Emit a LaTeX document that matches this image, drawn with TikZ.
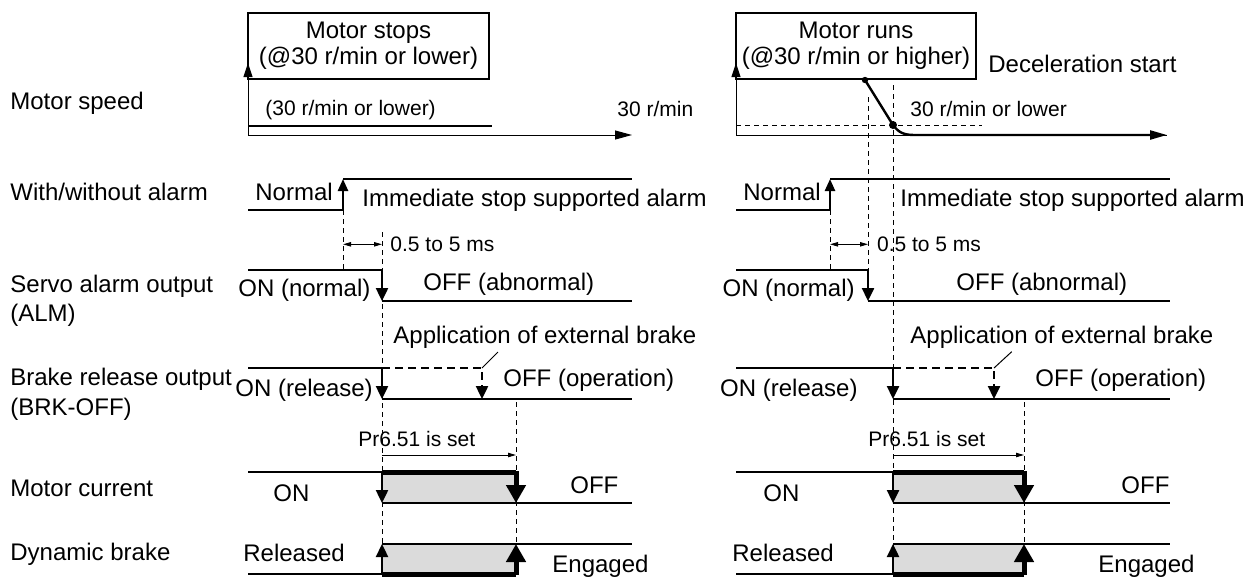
\documentclass[tikz,border=0pt]{standalone}
\usepackage{fontspec}
\setmainfont{Liberation Sans}
\usetikzlibrary{arrows.meta}
\begin{document}
\begin{tikzpicture}[x=0.5pt,y=-0.5pt,
  every node/.style={font=\fontsize{12}{13}\selectfont, inner sep=0pt},
  lbl/.style={anchor=base west},
  lble/.style={anchor=base east},
  small/.style={font=\fontsize{10.5}{12}\selectfont},
  thinline/.style={line width=0.5pt},
  sig/.style={line width=1.2pt},
  big/.style={line width=2.5pt},
  dsh/.style={line width=0.5pt, dash pattern=on 2.5pt off 2pt},
  dshsig/.style={line width=1.2pt, dash pattern=on 4pt off 2.5pt},
  axtip/.style={-{Triangle[length=8.5pt,width=4.5pt]}},
  uptip/.style={-{Triangle[length=7pt,width=4.5pt]}},
  ar/.style={-{Triangle[length=6.5pt,width=6pt]}},
  riseap/.style={-{Triangle[length=6pt,width=5pt]}},
  bigar/.style={-{Triangle[length=9pt,width=9.5pt]}},
  dimar/.style={{Triangle[length=4pt,width=2.2pt]}-{Triangle[length=4pt,width=2.2pt]}},
  dimr/.style={-{Triangle[length=4pt,width=2.2pt]}},
  boxst/.style={draw, fill=white, line width=1.2pt, align=center, minimum height=33pt},
  gfill/.style={fill=black!14}
]
\useasboundingbox (0,0) rectangle (1257,579);

% ---------- row labels ----------
\node[lbl] (l1) at (10,109.3) {Motor speed};
\node[lbl] (l2) at (10,200.7) {With/without alarm};
\node[lbl] (l3) at (10,292.7) {Servo alarm output};
\node[lbl] (l3b) at (10,321.7) {(ALM)};
\node[lbl] (l4) at (10,385) {Brake release output};
\node[lbl] (l4b) at (10,415) {(BRK-OFF)};
\node[lbl] (l5) at (10,496.7) {Motor current};
\node[lbl] (l6) at (10,560.7) {Dynamic brake};

% =============== LEFT PANEL ===============
\fill[gfill] (382,472) rectangle (516,503);
\fill[gfill] (382,544) rectangle (516,574);
\draw[dsh] (343,210) -- (343,270);
\draw[dsh] (382,232) -- (382,574);
\draw[dsh] (516,402) -- (516,574);

% motor speed
\node[boxst, minimum width=120.5pt] (box1) at (368.5,46) {Motor stops\\(@30 r/min or lower)};
\coordinate (o1) at (248,135);
\coordinate (yt1) at (248,63);
\coordinate (xt1) at (632,135);
\draw[thinline, axtip] (o1) -- (xt1);
\draw[thinline, uptip] (o1) -- (yt1);
\draw[sig] (248,126) -- (492,126);
\node[lbl, small] (s1) at (265,115) {(30 r/min or lower)};
\node[lbl, small] (s2) at (617,116.7) {30 r/min};

% alarm
\draw[sig] (248,210) -- (343,210);
\draw[sig, riseap] (343,210) -- (343,179);
\draw[sig] (343,179) -- (632,179);
\node[lbl] (n1) at (255,200) {Normal};
\node[lbl] (i1) at (362,206.7) {Immediate stop supported alarm};
\draw[thinline, dimar] (343,244.3) -- (382,244.3);
\node[lbl, small] (d1) at (390,251.7) {0.5 to 5 ms};

% ALM
\draw[sig] (248,270) -- (382,270);
\draw[sig, ar] (382,270) -- (382,301);
\draw[sig] (382,301) -- (632,301);
\node[lbl] (on1) at (238,296.7) {ON (normal)};
\node[lbl] (of1) at (423,290) {OFF (abnormal)};

% brake release
\draw[sig] (248,368) -- (382,368);
\draw[sig, ar] (382,368) -- (382,399);
\draw[sig] (382,399) -- (632,399);
\draw[dshsig] (382,368) -- (482,368) -- (482,390);
\draw[sig, ar] (482,387) -- (482,399);
\node[lbl] (ap1) at (393,343) {Application of external brake};
\draw[thinline] (498,352) -- (482,368);
\node[lbl] (rl1) at (235,396.7) {ON (release)};
\node[lbl] (op1) at (503,386.7) {OFF (operation)};

% Pr6.51
\node[lbl, small] (pr1) at (358,446.7) {Pr6.51 is set};
\draw[thinline, dimr] (382,455) -- (516,455);

% motor current
\draw[sig] (248,472) -- (382,472);
\draw[big] (382,472) -- (516,472);
\draw[big, bigar] (516,471) -- (516,503);
\draw[sig, ar] (382,472) -- (382,503);
\draw[sig] (382,503) -- (632,503);
\node[lbl] (mon1) at (273,501.7) {ON};
\node[lbl] (mof1) at (570,493) {OFF};

% dynamic brake
\draw[sig] (248,574) -- (382,574);
\draw[big] (382,574) -- (516,574);
\draw[big, bigar] (516,575) -- (516,544);
\draw[sig, ar] (382,574) -- (382,544);
\draw[sig] (382,544) -- (632,544);
\node[lbl] (re1) at (243,561.7) {Released};
\node[lbl] (en1) at (552,572) {Engaged};

% =============== RIGHT PANEL ===============
\fill[gfill] (893,472) rectangle (1024,503);
\fill[gfill] (893,544) rectangle (1024,574);
\draw[dsh] (830,210) -- (830,270);
\draw[dsh] (868,97) -- (868,270);
\draw[dsh] (893,85) -- (893,574);
\draw[dsh] (1024,402) -- (1024,574);
\draw[dsh] (736,125) -- (982,125);

% motor speed
\node[boxst, minimum width=120pt] (box2) at (856,46) {Motor runs\\(@30 r/min or higher)};
\coordinate (o2) at (736,135);
\coordinate (yt2) at (736,63);
\coordinate (xt2) at (1167,135);
\draw[thinline] (o2) -- (xt2);
\draw[thinline, uptip] (o2) -- (yt2);
\coordinate (dec) at (865,80);
\coordinate (low) at (893,125);
\draw[sig, axtip] (dec) -- (low) .. controls (899,133) and (904,135) .. (915,135) -- (xt2);
\fill (dec) circle (1.6pt);
\fill (low) circle (2pt);
\node[lbl] (ds) at (988,72.7) {Deceleration start};
\node[lbl, small] (s3) at (910,116.7) {30 r/min or lower};

% alarm
\draw[sig] (736,210) -- (830,210);
\draw[sig, riseap] (830,210) -- (830,179);
\draw[sig] (830,179) -- (1170,179);
\node[lbl] (n2) at (743,200) {Normal};
\node[lbl] (i2) at (900,206.7) {Immediate stop supported alarm};
\draw[thinline, dimar] (830,244.3) -- (868,244.3);
\node[lbl, small] (d2) at (876.7,251.7) {0.5 to 5 ms};

% ALM
\draw[sig] (736,270) -- (868,270);
\draw[sig, ar] (868,270) -- (868,301);
\draw[sig] (868,301) -- (1170,301);
\node[lble] (on2) at (855,296.7) {ON (normal)};
\node[lbl] (of2) at (956,290) {OFF (abnormal)};

% brake release
\draw[sig] (736,368) -- (893,368);
\draw[sig, ar] (893,368) -- (893,399);
\draw[sig] (893,399) -- (1170,399);
\draw[dshsig] (893,368) -- (994,368) -- (994,390);
\draw[sig, ar] (994,387) -- (994,399);
\node[lbl] (ap2) at (910,343) {Application of external brake};
\draw[thinline] (1011.7,351.7) -- (994,368);
\node[lble] (rl2) at (858,396.7) {ON (release)};
\node[lbl] (op2) at (1035,386.7) {OFF (operation)};

% Pr6.51
\node[lbl, small] (pr2) at (868,446.7) {Pr6.51 is set};
\draw[thinline, dimr] (893,455) -- (1024,455);

% motor current
\draw[sig] (736,472) -- (893,472);
\draw[big] (893,472) -- (1024,472);
\draw[big, bigar] (1024,471) -- (1024,503);
\draw[sig, ar] (893,472) -- (893,503);
\draw[sig] (893,503) -- (1170,503);
\node[lbl] (mon2) at (763,501.7) {ON};
\node[lbl] (mof2) at (1121,493) {OFF};

% dynamic brake
\draw[sig] (736,574) -- (893,574);
\draw[big] (893,574) -- (1024,574);
\draw[big, bigar] (1024,575) -- (1024,544);
\draw[sig, ar] (893,574) -- (893,544);
\draw[sig] (893,544) -- (1170,544);
\node[lbl] (re2) at (732,561.7) {Released};
\node[lbl] (en2) at (1098,572) {Engaged};
\end{tikzpicture}
\end{document}
